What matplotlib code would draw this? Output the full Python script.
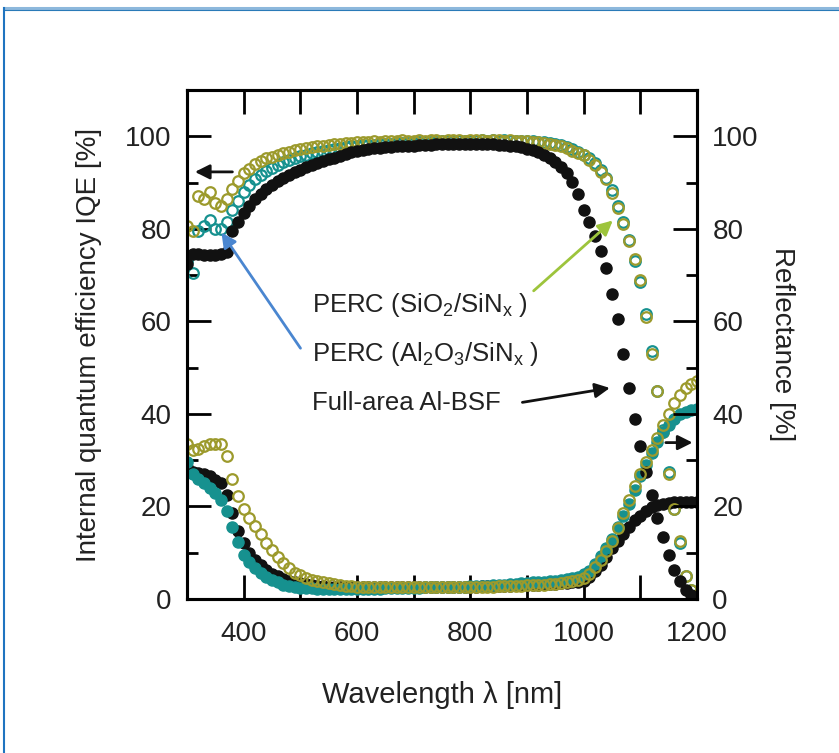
import numpy as np
import matplotlib.pyplot as plt
from matplotlib.lines import Line2D
from matplotlib.ticker import MultipleLocator

plt.rcParams['font.family'] = ['Liberation Sans', 'DejaVu Sans']
plt.rcParams['mathtext.default'] = 'regular'

# wavelength grid [nm]
wl = np.arange(300, 1201, 10)

# IQE [%]
iqe_bsf = [72.5, 74.5, 74.5, 74.3, 74.3, 74.3, 74.5, 75.0, 79.5, 81.5,
           83.5, 85.0, 86.5, 87.5, 88.5, 89.5, 90.3, 91.0, 91.7, 92.3,
           92.8, 93.3, 93.8, 94.2, 94.6, 95.0, 95.4, 95.8, 96.2, 96.5,
           96.8, 97.0, 97.2, 97.4, 97.5, 97.6, 97.7, 97.8, 97.9, 98.0,
           98.0, 98.1, 98.2, 98.2, 98.3, 98.3, 98.3, 98.4, 98.4, 98.4,
           98.4, 98.4, 98.4, 98.3, 98.3, 98.2, 98.1, 98.0, 97.8, 97.6,
           97.3, 97.0, 96.6, 96.0, 95.3, 94.5, 93.4, 92.0, 90.2, 87.5,
           84.0, 81.5, 78.5, 75.3, 71.5, 66.0, 60.5, 53.0, 45.5, 39.0,
           33.0, 27.5, 22.5, 17.5, 13.5, 9.5, 6.3, 4.0, 2.0, 0.8, 0.3]
iqe_sio2 = [80.5, 79.5, 87.0, 86.5, 88.0, 85.5, 85.0, 86.5, 88.5, 90.3,
            92.0, 93.0, 94.0, 94.6, 95.2, 95.6, 96.0, 96.4, 96.7, 97.0,
            97.2, 97.4, 97.6, 97.8, 98.0, 98.1, 98.3, 98.4, 98.5, 98.6,
            98.7, 98.8, 98.7, 98.9, 98.8, 99.0, 98.9, 99.0, 99.1, 98.9,
            99.0, 99.1, 99.0, 99.2, 99.1, 99.0, 99.2, 99.1, 99.2, 99.0,
            99.2, 99.1, 99.2, 99.0, 99.1, 99.2, 99.0, 99.1, 98.9, 99.0,
            98.9, 98.8, 98.7, 98.6, 98.4, 98.1, 97.8, 97.4, 96.9, 96.3,
            96.0, 94.8, 93.7, 92.2, 90.7, 87.7, 84.4, 81.0, 77.3, 73.5,
            69.0, 61.0, 53.0, 45.0, 36.0, 27.0, 19.5, 12.5, 5.0, 2.0, 0.8]
iqe_al2o3 = [73.0, 70.5, 79.5, 80.5, 82.0, 80.0, 80.0, 81.5, 84.0, 86.0,
             88.0, 89.5, 90.7, 91.7, 92.5, 93.2, 93.8, 94.4, 94.9, 95.3,
             95.7, 96.0, 96.3, 96.6, 96.9, 97.1, 97.3, 97.5, 97.7, 97.9,
             98.0, 98.1, 98.2, 98.2, 98.3, 98.4, 98.4, 98.5, 98.5, 98.6,
             98.6, 98.7, 98.7, 98.8, 98.8, 98.9, 98.9, 98.9, 99.0, 99.0,
             99.0, 99.0, 99.1, 99.0, 99.1, 99.0, 99.1, 99.0, 99.0, 99.0,
             99.0, 98.9, 98.8, 98.7, 98.6, 98.4, 98.1, 97.7, 97.2, 96.6,
             96.0, 95.2, 94.2, 92.8, 91.0, 88.3, 85.0, 81.5, 77.5, 73.0,
             68.5, 61.5, 53.5, 45.0, 36.5, 27.5, 19.5, 12.0, 5.0, 2.0, 0.8]

# Reflectance [%]
r_bsf = [28.5, 27.5, 27.2, 27.0, 26.5, 25.8, 25.0, 22.5, 18.5, 14.8,
         12.0, 10.0, 8.5, 7.3, 6.3, 5.5, 4.9, 4.4, 4.0, 3.7,
         3.4, 3.2, 3.0, 2.9, 2.8, 2.7, 2.7, 2.6, 2.6, 2.6,
         2.6, 2.5, 2.5, 2.5, 2.5, 2.5, 2.5, 2.5, 2.5, 2.5,
         2.5, 2.5, 2.6, 2.6, 2.6, 2.6, 2.6, 2.6, 2.7, 2.7,
         2.7, 2.7, 2.8, 2.8, 2.8, 2.9, 2.9, 2.9, 3.0, 3.0,
         3.1, 3.1, 3.1, 3.2, 3.2, 3.3, 3.4, 3.5, 3.6, 3.7,
         4.0, 4.8, 6.0, 7.3, 9.0, 11.0, 12.5, 14.0, 15.5, 17.0,
         18.0, 19.0, 19.8, 20.3, 20.6, 20.8, 20.9, 21.0, 21.0, 21.0, 21.0]
r_al2o3 = [29.5, 27.0, 26.0, 25.0, 24.0, 23.0, 21.5, 19.0, 15.5, 12.3,
           9.5, 8.0, 6.8, 5.7, 4.8, 4.2, 3.6, 3.1, 2.8, 2.6,
           2.4, 2.3, 2.3, 2.2, 2.2, 2.2, 2.1, 2.1, 2.1, 2.1,
           2.2, 2.2, 2.2, 2.2, 2.2, 2.3, 2.3, 2.3, 2.3, 2.4,
           2.4, 2.4, 2.5, 2.5, 2.5, 2.6, 2.6, 2.6, 2.7, 2.7,
           2.8, 2.8, 2.9, 2.9, 3.0, 3.0, 3.1, 3.2, 3.3, 3.4,
           3.5, 3.6, 3.6, 3.7, 3.8, 4.0, 4.1, 4.3, 4.5, 4.8,
           5.3, 6.0, 7.5, 9.2, 11.0, 13.0, 15.5, 18.0, 20.5, 23.5,
           26.5, 29.0, 31.5, 34.0, 36.0, 37.5, 39.0, 40.0, 40.5, 40.8, 41.0]
r_sio2 = [33.5, 32.3, 32.5, 33.0, 33.5, 33.5, 33.5, 31.0, 26.0, 22.3,
          19.5, 17.5, 15.8, 14.0, 12.2, 10.5, 9.0, 7.8, 6.6, 5.7,
          5.1, 4.6, 4.2, 3.9, 3.6, 3.4, 3.2, 3.0, 2.9, 2.8,
          2.7, 2.6, 2.6, 2.5, 2.5, 2.5, 2.5, 2.5, 2.5, 2.5,
          2.5, 2.5, 2.5, 2.5, 2.5, 2.5, 2.5, 2.6, 2.6, 2.6,
          2.6, 2.6, 2.7, 2.7, 2.7, 2.8, 2.8, 2.8, 2.9, 2.9,
          3.0, 3.0, 3.1, 3.1, 3.2, 3.3, 3.4, 3.6, 3.8, 4.1,
          4.5, 5.5, 7.0, 8.5, 10.3, 12.5, 15.3, 18.5, 21.5, 24.5,
          27.0, 29.5, 32.3, 34.8, 37.5, 40.0, 42.3, 44.0, 45.5, 46.5, 47.2]

black = '#111111'
teal = '#16918f'
olive = '#9c9a2c'
txt = '#222222'

fig = plt.figure(figsize=(8.39, 7.53), dpi=100)
ax = fig.add_axes([0.2229, 0.2045, 0.6079, 0.676])
ax2 = ax.twinx()

ms_fill = 8.0
ms_open = 7.6

# IQE curves
ax.plot(wl, iqe_al2o3, 'o', ms=ms_open, mfc='none', mec=teal, mew=1.6, zorder=3)
ax.plot(wl, iqe_sio2, 'o', ms=ms_open, mfc='none', mec=olive, mew=1.6, zorder=4)
ax.plot(wl, iqe_bsf, 'o', ms=ms_fill, color=black, mec=black, zorder=5)

# reflectance curves
ax.plot(wl, r_bsf, 'o', ms=ms_fill, color=black, mec=black, zorder=3)
ax.plot(wl, r_al2o3, 'o', ms=ms_fill, color=teal, mec=teal, zorder=4)
ax.plot(wl, r_sio2, 'o', ms=ms_open, mfc='none', mec=olive, mew=1.6, zorder=5)

ax.set_xlim(300, 1200)
ax.set_ylim(0, 110)
ax2.set_ylim(0, 110)

ax.xaxis.set_major_locator(MultipleLocator(200))
ax.xaxis.set_minor_locator(MultipleLocator(100))
ax.yaxis.set_major_locator(MultipleLocator(20))
ax.yaxis.set_minor_locator(MultipleLocator(10))
ax2.yaxis.set_major_locator(MultipleLocator(20))
ax2.yaxis.set_minor_locator(MultipleLocator(10))

ax.tick_params(axis='x', which='both', direction='in', top=True, length=17, width=2,
               labelsize=20, labelcolor=txt, pad=16)
ax.tick_params(axis='y', which='major', direction='in', length=17, width=2,
               labelsize=20, labelcolor=txt, pad=11)
ax.tick_params(axis='y', which='minor', direction='in', length=8, width=2)
ax2.tick_params(axis='y', which='major', direction='in', length=17, width=2,
                labelsize=20, labelcolor=txt, pad=11)
ax2.tick_params(axis='y', which='minor', direction='in', length=8, width=2)

for a in (ax, ax2):
    for s in a.spines.values():
        s.set_linewidth(2.2)

ax.set_xlabel('Wavelength λ [nm]', fontsize=21, color=txt, labelpad=24)
ax.set_ylabel('Internal quantum efficiency IQE [%]', fontsize=20, color=txt, labelpad=17)
ax2.set_ylabel('Reflectance [%]', fontsize=20, color=txt, rotation=270, labelpad=26)

# axis indicator arrows
ax.annotate('', xy=(309, 92.3), xytext=(385, 92.3),
            arrowprops=dict(arrowstyle='-|>', mutation_scale=22, lw=2, color=black), zorder=6)
ax.annotate('', xy=(1197, 33.8), xytext=(1140, 33.8),
            arrowprops=dict(arrowstyle='-|>', mutation_scale=22, lw=2, color=black), zorder=6)

# curve labels
ax.text(520, 63.6, 'PERC (SiO$_2$/SiN$_x$ )', fontsize=18.5, color=txt, va='center', ha='left')
ax.text(520, 53.0, 'PERC (Al$_2$O$_3$/SiN$_x$ )', fontsize=18.5, color=txt, va='center', ha='left')
ax.text(520, 42.4, 'Full-area Al-BSF', fontsize=18.5, color=txt, va='center', ha='left')

ax.annotate('', xy=(1055, 82.2), xytext=(908, 66.2),
            arrowprops=dict(arrowstyle='-|>', mutation_scale=22, lw=2, color='#9dc43c'), zorder=6)
ax.annotate('', xy=(358, 79.7), xytext=(503, 53.7),
            arrowprops=dict(arrowstyle='-|>', mutation_scale=22, lw=2, color='#4a86d0'), zorder=6)
ax.annotate('', xy=(1051, 45.7), xytext=(887, 42.4),
            arrowprops=dict(arrowstyle='-|>', mutation_scale=22, lw=2, color=black), zorder=6)

# page frame lines
fig.add_artist(Line2D([3.5 / 839, 1], [1 - 8 / 753, 1 - 8 / 753], color='#8db8dc', lw=2.2))
fig.add_artist(Line2D([3.5 / 839, 1], [1 - 9.5 / 753, 1 - 9.5 / 753], color='#2a7ab8', lw=0.8))
fig.add_artist(Line2D([4 / 839, 4 / 839], [0, 1 - 8 / 753], color='#1f74c0', lw=1.5))

fig.savefig('out.png', dpi=100)
